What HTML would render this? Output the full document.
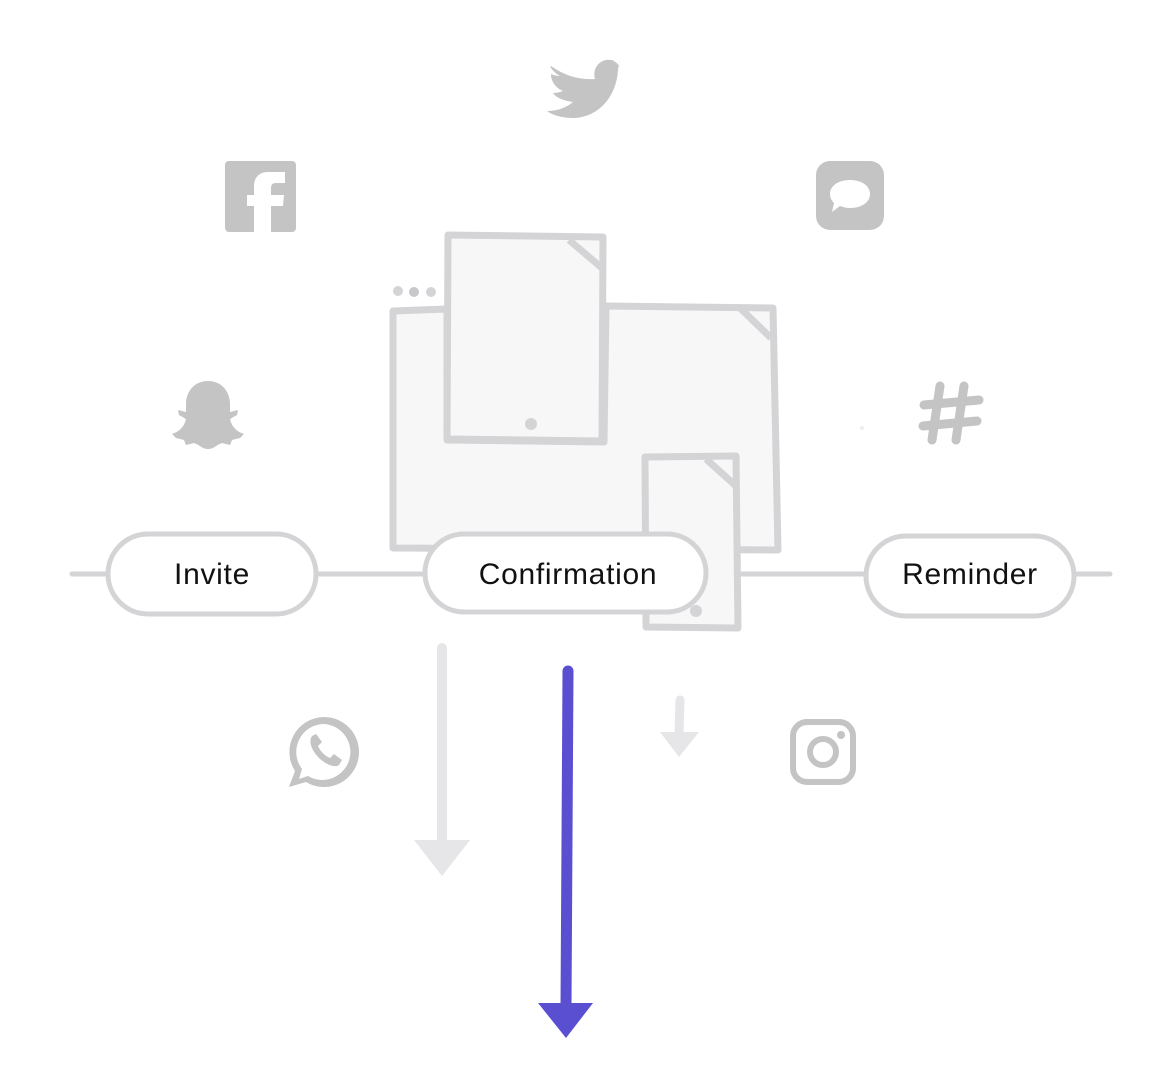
<!DOCTYPE html>
<html><head><meta charset="utf-8"><style>
html,body{margin:0;padding:0;background:#fff;}
svg{display:block;}
text{font-family:"Liberation Sans",sans-serif;}
</style></head><body>
<svg width="1168" height="1076" viewBox="0 0 1168 1076" xmlns="http://www.w3.org/2000/svg">
<g fill="#c4c4c4">
<path d="M551 66 C565 76 580 80 595 79 C592 68 600 58 612 60 C616 62 618 64 619 66 L621 58 L618 69 C617 95 600 117 574 118 C562 118 552 115 547 111 C560 111 568 106 573 102 C565 101 556 98 553 93 C557 93 560 92 563 91 C556 88 551 82 551 74 C553 75 557 76 560 76 C553 72 549 66 551 66 Z"/>
<rect x="225" y="161" width="71" height="71" rx="4"/>
<path d="M254 232 V206 H247 V195 H254 V186 C254 177 260 172 268 172 L285 172 L285 183 L276 183 C272 183 271 185 271 189 V195 H284 L283 206 H271 V232 Z" fill="#fff"/>
<rect x="816" y="161" width="68" height="69" rx="14"/>
<path d="M850 180 C862 180 870 186 870 194 C870 202 862 208 850 208 C846 208 843 207 840 206 L832 212 L834 203 C831 200 830 197 830 194 C830 186 838 180 850 180 Z" fill="#fff"/>
<path d="M208 381 C222 381 230 392 230 404 L230 412 L238 410 L237 415 L230 419 C232 428 238 432 244 434 L240 438 L232 440 L230 445 L222 443 C216 445 214 449 208 449 C202 449 200 445 194 443 L186 445 L184 440 L176 438 L172 434 C178 432 184 428 186 419 L179 415 L178 410 L186 412 L186 404 C186 392 194 381 208 381 Z"/>
<g stroke="#c4c4c4" stroke-width="9" stroke-linecap="round">
<line x1="940" y1="386" x2="932" y2="440"/><line x1="964" y1="386" x2="956" y2="440"/>
<line x1="924" y1="405" x2="979" y2="400"/><line x1="923" y1="426" x2="977" y2="421"/>
</g>
<circle cx="862" cy="428" r="2" fill="#eee"/>
<path d="M324 717 A35 35 0 1 1 306 782 L289 787 L295 771 A35 35 0 0 1 324 717 Z M324 724 A28 28 0 0 0 302 769 L299 779 L308 776 A28 28 0 1 0 324 724 Z" fill-rule="evenodd"/>
<path d="M312 736 C309 740 310 748 318 757 C326 765 335 768 339 765 L342 760 L334 754 L330 758 C325 756 320 751 318 746 L322 742 L316 734 Z"/>
<rect x="793" y="722" width="60" height="60" rx="14" fill="none" stroke="#c4c4c4" stroke-width="6"/>
<circle cx="823" cy="752" r="13" fill="none" stroke="#c4c4c4" stroke-width="6"/>
<circle cx="841" cy="735" r="4"/>
</g>
<line x1="72" y1="574" x2="1110" y2="574" stroke="#d4d4d6" stroke-width="5" stroke-linecap="round"/>
<circle cx="398" cy="291" r="5" fill="#d4d4d6"/><circle cx="414" cy="292" r="5" fill="#c8c8ca"/><circle cx="431" cy="292" r="5" fill="#d4d4d6"/>
<path d="M393 311 L447 309 L447 440 L604 442 L606 306 L773 308 L778 550 L393 548 Z" fill="#f7f7f7" stroke="#d4d4d6" stroke-width="7" stroke-linejoin="round"/>
<path d="M740 308 L771 338" stroke="#d4d4d6" stroke-width="7" fill="none"/>
<path d="M448 235 L603 237 L602 441 L447 439 Z" fill="#f7f7f7" stroke="#d4d4d6" stroke-width="7" stroke-linejoin="round"/>
<path d="M569 240 L602 268" stroke="#d4d4d6" stroke-width="7" fill="none"/>
<circle cx="531" cy="424" r="6" fill="#d4d4d6"/>
<path d="M645 457 L736 456 L738 628 L646 627 Z" fill="#f7f7f7" stroke="#d4d4d6" stroke-width="7" stroke-linejoin="round"/>
<path d="M706 459 L736 486" stroke="#d4d4d6" stroke-width="7" fill="none"/>
<rect x="108" y="534" width="208" height="80" rx="40" fill="#fff" stroke="#d4d4d6" stroke-width="5"/>
<text x="212" y="584" font-size="30" letter-spacing="0.7" text-anchor="middle" fill="#111">Invite</text>
<rect x="425" y="534" width="281" height="78" rx="39" fill="#fff" stroke="#d4d4d6" stroke-width="5"/>
<text x="568" y="584" font-size="30" letter-spacing="0.7" text-anchor="middle" fill="#111">Confirmation</text>
<circle cx="696" cy="611" r="6" fill="#d4d4d6"/>
<rect x="866" y="536" width="208" height="80" rx="40" fill="#fff" stroke="#d4d4d6" stroke-width="5"/>
<text x="970" y="584" font-size="30" letter-spacing="0.7" text-anchor="middle" fill="#111">Reminder</text>
<line x1="442" y1="648" x2="442" y2="842" stroke="#e6e6e8" stroke-width="10" stroke-linecap="round"/>
<polygon points="414,840 470,840 442,876" fill="#e6e6e8"/>
<line x1="680" y1="700" x2="679" y2="734" stroke="#e6e6e8" stroke-width="9" stroke-linecap="round"/>
<polygon points="660,732 699,732 679,757" fill="#e6e6e8"/>
<line x1="568" y1="671" x2="566" y2="1006" stroke="#5a4fd1" stroke-width="11" stroke-linecap="round"/>
<polygon points="538,1003 593,1003 566,1038" fill="#5a4fd1"/>
</svg>
</body></html>
